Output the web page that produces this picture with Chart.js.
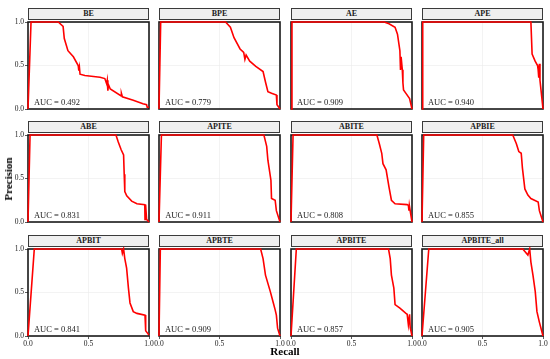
<!DOCTYPE html>
<html><head><meta charset="utf-8">
<script src="https://cdn.jsdelivr.net/npm/chart.js@4/dist/chart.umd.min.js"></script>
<style>
html,body{margin:0;padding:0;background:#fff;}
#wrap{position:relative;width:550px;height:359px;overflow:hidden;font-family:"Liberation Serif","Times New Roman",serif;}
#wrap canvas{position:absolute;left:0;top:0;}
.strip{position:absolute;box-sizing:border-box;background:#efefef;border:1px solid #3a3a3a;font-weight:bold;font-size:8px;line-height:10px;text-align:center;color:#1a1a1a;}
.axt{position:absolute;font-weight:bold;font-size:11px;color:#000;white-space:nowrap;}
</style></head>
<body><div id="wrap"></div>
<script>
// ---- data ----
const panels = ["BE","BPE","AE","APE","ABE","APITE","ABITE","APBIE","APBIT","APBTE","APBITE","APBITE_all"];
const aucValues = ["0.492","0.779","0.909","0.940","0.831","0.911","0.808","0.855","0.841","0.909","0.857","0.905"];
const xTicks = [0, 0.5, 1];

const recall_BE    = [0,0.025,0.25,0.29,0.30,0.33,0.375,0.415,0.42,0.425,0.43,0.47,0.595,0.635,0.65,0.655,0.66,0.665,0.68,0.77,0.772,0.78,0.87,0.95,0.98,0.985,1.0];
const precision_BE = [0,1,1,0.95,0.81,0.67,0.60,0.50,0.44,0.48,0.40,0.385,0.365,0.35,0.29,0.33,0.21,0.28,0.23,0.15,0.18,0.14,0.10,0.06,0.05,0.02,0.02];

const recall_BPE    = [0,0.014,0.55,0.59,0.62,0.67,0.70,0.71,0.72,0.75,0.80,0.86,0.88,0.90,0.93,0.97,0.975,0.98,1.0];
const precision_BPE = [0,1,1,0.94,0.82,0.69,0.65,0.57,0.62,0.55,0.49,0.43,0.31,0.20,0.18,0.16,0.05,0.04,0];

const recall_AE    = [0,0.008,0.77,0.81,0.86,0.88,0.90,0.905,0.91,0.92,0.925,0.93,0.95,0.98,1.0];
const precision_AE = [0,1,1,0.98,0.94,0.86,0.67,0.45,0.60,0.45,0.30,0.22,0.18,0.12,0];

const recall_APE    = [0,0.006,0.90,0.91,0.935,0.955,0.96,0.965,0.97,0.975,1.0];
const precision_APE = [0,1,1,0.63,0.55,0.50,0.45,0.36,0.52,0.33,0];

const recall_ABE    = [0,0.017,0.727,0.746,0.77,0.79,0.795,0.80,0.816,0.857,0.90,0.965,0.967,0.972,0.98,1.0];
const precision_ABE = [0,1,1,0.92,0.83,0.77,0.55,0.35,0.30,0.24,0.21,0.20,0.03,0.20,0.03,0];

const recall_APITE    = [0,0.02,0.867,0.89,0.90,0.925,0.93,0.96,0.97,1.0];
const precision_APITE = [0,1,1,0.87,0.71,0.48,0.27,0.25,0.13,0];

const recall_ABITE    = [0,0.017,0.71,0.73,0.75,0.76,0.786,0.81,0.83,0.86,0.96,0.97,0.975,0.978,1.0];
const precision_ABITE = [0,1,1,0.90,0.79,0.67,0.60,0.40,0.25,0.21,0.20,0.19,0.13,0.19,0];

const recall_APBIE    = [0,0.014,0.75,0.78,0.80,0.82,0.83,0.85,0.875,0.90,0.96,0.97,1.0];
const precision_APBIE = [0,1,1,0.90,0.81,0.79,0.62,0.38,0.31,0.27,0.23,0.13,0];

const recall_APBIT    = [0,0.052,0.774,0.78,0.79,0.80,0.815,0.83,0.843,0.87,0.90,0.967,0.97,0.975,1.0];
const precision_APBIT = [0,1,1,0.95,1,0.89,0.78,0.55,0.38,0.28,0.26,0.24,0.11,0.06,0.01];

const recall_APBTE    = [0,0.011,0.84,0.86,0.88,0.92,0.945,0.96,0.97,0.98,1.0];
const precision_APBTE = [0,1,1,0.89,0.70,0.51,0.38,0.30,0.24,0.09,0];

const recall_APBITE    = [0,0.044,0.806,0.82,0.83,0.85,0.86,0.90,0.95,0.96,0.97,0.98,0.985,1.0];
const precision_APBITE = [0,1,1,0.89,0.70,0.55,0.36,0.32,0.26,0.25,0.13,0.25,0.10,0];

const recall_APBITE_all    = [0,0.056,0.833,0.875,0.89,0.90,0.917,0.936,0.95,0.97,1.0];
const precision_APBITE_all = [0,1,1,0.93,1,0.85,0.70,0.51,0.28,0.16,0];

const recallSeries = [recall_BE,recall_BPE,recall_AE,recall_APE,recall_ABE,recall_APITE,recall_ABITE,recall_APBIE,recall_APBIT,recall_APBTE,recall_APBITE,recall_APBITE_all];
const precisionSeries = [precision_BE,precision_BPE,precision_AE,precision_APE,precision_ABE,precision_APITE,precision_ABITE,precision_APBIE,precision_APBIT,precision_APBTE,precision_APBITE,precision_APBITE_all];

// ---- layout ----
const W = 550, Hc = 359;
const colLeft = [28,159,291,422], panelW = 121;
const rowTop = [22,135,249], panelH = 87;
const YAXW = 20, XAXH = 12;
const FONT = "'Liberation Serif','Times New Roman',serif";

const wrap = document.getElementById('wrap');

const panelPlugin = {
  id:'panelDeco',
  beforeDatasetsDraw(chart){
    const a = chart.chartArea, ctx = chart.ctx;
    ctx.save();
    ctx.strokeStyle = '#1a1a1a';
    ctx.lineWidth = 1.6;
    ctx.strokeRect(a.left, a.top, a.right - a.left, a.bottom - a.top);
    ctx.restore();
  },
  afterDatasetsDraw(chart, args, opts){
    const ctx = chart.ctx, xs = chart.scales.x, ys = chart.scales.y;
    ctx.save();
    ctx.fillStyle = '#1a1a1a';
    ctx.font = "8.5px " + FONT;
    ctx.textAlign = 'center';
    ctx.textBaseline = 'middle';
    ctx.fillText('AUC = ' + opts.auc, xs.getPixelForValue(0.24), ys.getPixelForValue(0.075));
    ctx.restore();
  }
};

panels.forEach((name, i) => {
  const r = Math.floor(i / 4), c = i % 4;
  const L = colLeft[c], T = rowTop[r];
  const cv = document.createElement('canvas');
  cv.width = W; cv.height = Hc;
  cv.style.width = W + 'px'; cv.style.height = Hc + 'px';
  wrap.appendChild(cv);

  const strip = document.createElement('div');
  strip.className = 'strip';
  strip.style.left = L + 'px';
  strip.style.top = (T - 14) + 'px';
  strip.style.width = panelW + 'px';
  strip.style.height = '12px';
  strip.textContent = name;
  wrap.appendChild(strip);

  const showY = c === 0, showX = r === 2;
  const pts = recallSeries[i].map((x, k) => ({x: x, y: precisionSeries[i][k]}));
  const tickFont = {family: FONT, size: 7.5};
  new Chart(cv, {
    type: 'scatter',
    data: {datasets: [{data: pts, showLine: true, borderColor: '#ff0000', borderWidth: 1.6,
      pointRadius: 0, pointHoverRadius: 0, tension: 0, fill: false, clip: 3}]},
    options: {
      responsive: false, animation: false, devicePixelRatio: 1, events: [],
      layout: {padding: {left: L - (showY ? YAXW : 0), top: T, right: W - (L + panelW),
        bottom: Hc - (T + panelH) - (showX ? XAXH : 0)}},
      plugins: {legend: {display: false}, tooltip: {enabled: false}, title: {display: false},
        panelDeco: {auc: aucValues[i]}},
      scales: {
        x: {type: 'linear', min: 0, max: 1,
          afterBuildTicks: s => { s.ticks = xTicks.map(v => ({value: v})); },
          afterFit: s => { s.height = showX ? XAXH : 0; },
          ticks: {display: showX, callback: v => Number(v).toFixed(1), font: tickFont, color: '#1a1a1a',
            padding: 1, maxRotation: 0, autoSkip: false},
          grid: {color: '#ebebeb', lineWidth: 0.6, drawTicks: showX, tickLength: 3, tickColor: '#333', tickWidth: 0.8},
          border: {display: false}},
        y: {type: 'linear', min: 0, max: 1,
          afterBuildTicks: s => { s.ticks = xTicks.map(v => ({value: v})); },
          afterFit: s => { s.width = showY ? YAXW : 0; },
          ticks: {display: showY, callback: v => Number(v).toFixed(1), font: tickFont, color: '#1a1a1a',
            padding: 1, autoSkip: false},
          grid: {color: '#ebebeb', lineWidth: 0.6, drawTicks: showY, tickLength: 3, tickColor: '#333', tickWidth: 0.8},
          border: {display: false}}
      }
    },
    plugins: [panelPlugin]
  });
});

const xt = document.createElement('div');
xt.className = 'axt'; xt.textContent = 'Recall';
xt.style.left = '0px'; xt.style.width = '570px'; xt.style.textAlign = 'center'; xt.style.top = '345px';
wrap.appendChild(xt);

const yt = document.createElement('div');
yt.className = 'axt'; yt.textContent = 'Precision';
yt.style.left = '8px'; yt.style.top = '179px';
yt.style.transform = 'translate(-50%,-50%) rotate(-90deg)';
wrap.appendChild(yt);
</script>
</body></html>
